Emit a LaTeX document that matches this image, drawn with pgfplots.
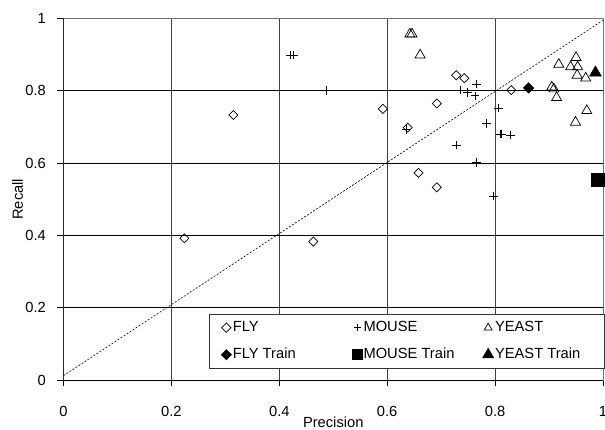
\documentclass[border=0pt]{standalone}
\usepackage{pgfplots}
\pgfplotsset{compat=1.18}
\usepackage{fontspec}
\setmainfont{Liberation Sans}

\begin{document}
\begin{tikzpicture}
\fontsize{14.7}{17}\selectfont
\useasboundingbox (-63.5pt,-49pt) rectangle (541.5pt,380pt);
\begin{axis}[
width=539.5pt,
height=361.5pt,
scale only axis,
xmin=0, xmax=1,
ymin=0, ymax=1,
xtick={0,0.2,0.4,0.6,0.8,1},
ytick={0,0.2,0.4,0.6,0.8,1},
xtick pos=bottom,
ytick pos=left,
tick align=outside,
major tick length=6pt,
every tick/.style={black, line width=0.8pt},
/pgf/number format/assume math mode=true,
xticklabel style={anchor=north, inner sep=0pt, yshift=-20.5pt},
yticklabel style={anchor=east, inner sep=0pt, xshift=-11.5pt},
xlabel={Precision},
ylabel={Recall},
xlabel style={at={(rel axis cs:0.5,0)}, anchor=north, inner sep=0pt, yshift=-36.5pt},
ylabel style={at={(rel axis cs:0,0.5)}, anchor=center, inner sep=0pt, rotate=0, yshift=45.8pt},
grid=major,
x grid style={black!75, line width=0.8pt},
y grid style={black, line width=0.8pt},
axis line style={black!55, line width=0.8pt},
legend columns=3,
legend cell align=left,
legend style={at={(axis cs:0.2697,0.1826)}, anchor=north west,
  draw=black!80, line width=0.8pt, fill=white,
  inner xsep=12pt, inner ysep=6.3pt,
  column sep=0pt, row sep=13pt,
  nodes={inner xsep=1.5pt, inner ysep=0pt, text height=11pt, text depth=3pt}},
legend image code/.code={\path (-4pt,0pt) (3pt,0pt); \draw[#1] plot coordinates {(0pt,0pt)};},
]
% diagonal reference line
\addplot[black, line width=0.6pt, dash pattern=on 2pt off 1.6pt, forget plot] coordinates {(0,0.012) (1,0.995)};

% FLY
\addplot[only marks, mark=square, mark size=3.2pt, mark options={rotate=45, fill=white, draw=black, line width=0.7pt}, forget plot] coordinates {
(0.592,0.750) (0.638,0.698) (0.692,0.765) (0.728,0.843) (0.743,0.835)
(0.830,0.802) (0.658,0.573) (0.692,0.533) (0.315,0.733) (0.224,0.392)
(0.463,0.383)
};
% MOUSE
\addplot[only marks, mark=+, mark size=4.3pt, mark options={draw=black, line width=0.8pt}, forget plot] coordinates {
(0.421,0.899) (0.427,0.899) (0.488,0.800) (0.765,0.819) (0.735,0.802)
(0.749,0.796) (0.763,0.786) (0.806,0.752) (0.784,0.710) (0.809,0.680)
(0.812,0.680) (0.828,0.678) (0.635,0.693) (0.728,0.650) (0.766,0.601)
(0.797,0.509)
};
% YEAST
\addplot[only marks, mark=triangle, mark size=5.8pt, mark options={fill=white, draw=black, line width=0.7pt}, forget plot] coordinates {
(0.642,0.957) (0.646,0.957) (0.661,0.899) (0.918,0.873) (0.950,0.892)
(0.940,0.866) (0.953,0.866) (0.952,0.843) (0.968,0.835) (0.905,0.810)
(0.909,0.805) (0.914,0.781) (0.970,0.745) (0.949,0.713)
};
% training sets
\addplot[only marks, mark=square*, mark size=3.75pt, mark options={rotate=45, fill=black, draw=black}, forget plot] coordinates {(0.862,0.808)};
\addplot[only marks, mark=square*, mark size=6.5pt, mark options={fill=black, draw=black}, forget plot] coordinates {(0.990,0.555)};
\addplot[only marks, mark=triangle*, mark size=6.9pt, mark options={fill=black, draw=black}, forget plot] coordinates {(0.986,0.850)};

% left and bottom axis lines
\draw[black, line width=0.8pt] (rel axis cs:0,0) -- (rel axis cs:0,1);
\draw[black, line width=0.8pt] (rel axis cs:0,0) -- (rel axis cs:1,0);

\addlegendimage{only marks, mark=square, mark size=3.3pt, mark options={rotate=45, fill=white, draw=black, line width=0.7pt}}
\addlegendimage{only marks, mark=+, mark size=3.5pt, mark options={draw=black, line width=0.8pt}}
\addlegendimage{only marks, mark=triangle, mark size=4.5pt, mark options={fill=white, draw=black, line width=0.7pt}}
\addlegendimage{only marks, mark=square*, mark size=3.5pt, mark options={rotate=45, fill=black, draw=black}}
\addlegendimage{only marks, mark=square*, mark size=5pt, mark options={fill=black, draw=black}}
\addlegendimage{only marks, mark=triangle*, mark size=6.2pt, mark options={fill=black, draw=black}}
\legend{\makebox[117.75pt][l]{FLY}, \makebox[117.75pt][l]{MOUSE}, \makebox[96pt][l]{YEAST},
        \makebox[117.75pt][l]{FLY Train}, \makebox[117.75pt][l]{MOUSE Train}, \makebox[96pt][l]{YEAST Train}}
\end{axis}
\end{tikzpicture}
\end{document}
